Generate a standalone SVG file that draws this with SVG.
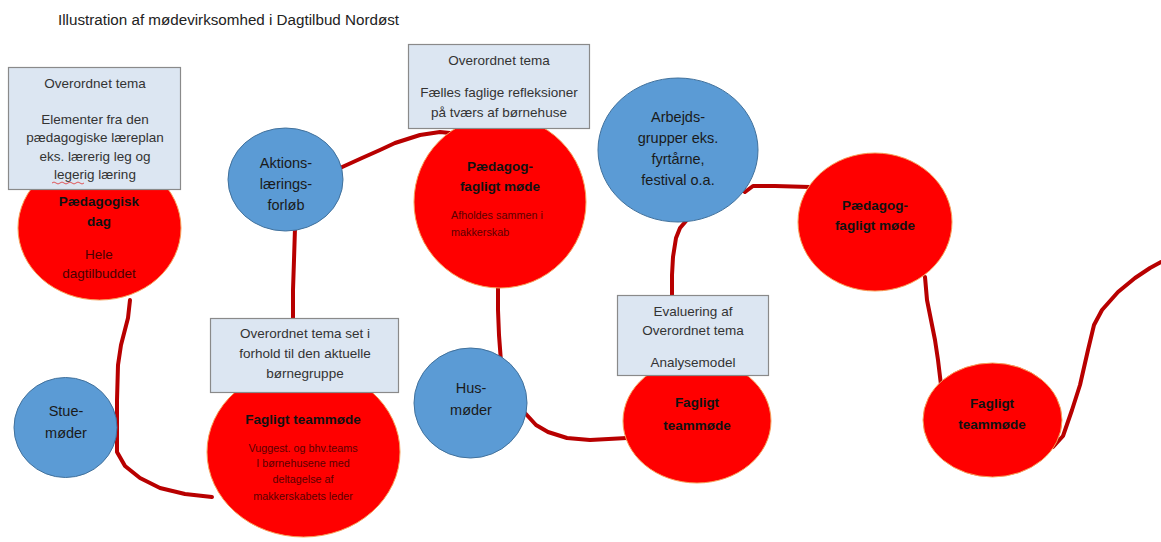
<svg xmlns="http://www.w3.org/2000/svg" width="1161" height="542" viewBox="0 0 1161 542">
<style>
text{font-family:"Liberation Sans",Arial,sans-serif;text-anchor:middle}
.t{font-size:13.5px;fill:#333}
.title{font-size:15.2px;fill:#222;text-anchor:start}
.red{fill:#ff0000;stroke:#f6a05a;stroke-width:1}
.blue{fill:#5b9bd5;stroke:#41719c;stroke-width:1}
.box{fill:#dce6f2;stroke:#8a8a8a;stroke-width:1.2}
.b{font-size:13.5px;font-weight:bold;fill:#111}
.s{font-size:10.8px;fill:#5a0000}
.d{font-size:13.5px;fill:#4a0000}
.bl{font-size:14.5px;fill:#1a1a1a}
.c{fill:none;stroke:#b80000;stroke-width:4;stroke-linecap:round;stroke-linejoin:round}
</style>
<rect width="1161" height="542" fill="#fff"/>
<text class="title" x="58" y="25">Illustration af mødevirksomhed i Dagtilbud Nordøst</text>
<g id="connectors">
<path class="c" d="M130,300 L128,318 L121,345 L118,365 L117,400 L117,452 L125,466 L140,478 L160,488 L185,494 L212,497"/>
<path class="c" d="M295,228 L294,260 L293,290 L293,320"/>
<path class="c" d="M340,168 L362,158 L380,150 L395,143 L420,135 L440,132 L460,134"/>
<path class="c" d="M498,285 L498,310 L499,335 L501,362"/>
<path class="c" d="M525,413 L536,425 L548,432 L567,438 L590,440 L627,438"/>
<path class="c" d="M672,297 L672,275 L673,257 L676,238 L680,228 L686,221"/>
<path class="c" d="M745,192 L753,186 L775,186 L810,187"/>
<path class="c" d="M925,277 L927,300 L931,320 L935,340 L938,360 L941,385"/>
<path class="c" d="M1053,447 L1063,436 L1072,410 L1080,385 L1088,350 L1094,325 L1102,310 L1118,292 L1135,278 L1150,268 L1161,262"/>
</g>
<g id="n-paed-dag">
<ellipse class="red" cx="99.5" cy="228" rx="81.5" ry="72"/>
<text class="b" x="99" y="206">Pædagogisk</text>
<text class="b" x="99" y="226">dag</text>
<text class="d" x="99" y="259">Hele</text>
<text class="d" x="99" y="278">dagtilbuddet</text>
</g>
<g id="n-box1">
<rect class="box" x="8.5" y="67.5" width="172" height="122"/>
<text class="t" x="95" y="88">Overordnet tema</text>
<text class="t" x="95" y="124">Elementer fra den</text>
<text class="t" x="95" y="142">pædagogiske læreplan</text>
<text class="t" x="95" y="161">eks. lærerig leg og</text>
<text class="t" x="95" y="179">legerig læring</text>
<path d="M52,183 q2,-2 4,0 t4,0 t4,0 t4,0 t4,0 t4,0 t4,0 t4,0" fill="none" stroke="#e03030" stroke-width="0.8"/>
</g>
<g id="n-aktions">
<ellipse class="blue" cx="285.5" cy="179.5" rx="57.5" ry="51.5"/>
<text class="bl" x="286" y="168">Aktions-</text>
<text class="bl" x="286" y="189">lærings-</text>
<text class="bl" x="286" y="210">forløb</text>
</g>
<g id="n-paed-faglig1">
<ellipse class="red" cx="500" cy="202" rx="86" ry="86"/>
<text class="b" x="500" y="171">Pædagog-</text>
<text class="b" x="500" y="191">fagligt møde</text>
<text class="s" x="451" y="219" style="text-anchor:start">Afholdes sammen i</text>
<text class="s" x="451" y="236" style="text-anchor:start">makkerskab</text>
</g>
<g id="n-box3">
<rect class="box" x="408.5" y="44.5" width="181" height="84"/>
<text class="t" x="499" y="65">Overordnet tema</text>
<text class="t" x="499" y="97">Fælles faglige refleksioner</text>
<text class="t" x="499" y="117">på tværs af børnehuse</text>
</g>
<g id="n-arbejds">
<ellipse class="blue" cx="678" cy="150" rx="80" ry="72"/>
<text class="bl" x="678" y="122">Arbejds-</text>
<text class="bl" x="678" y="143">grupper eks.</text>
<text class="bl" x="678" y="164">fyrtårne,</text>
<text class="bl" x="678" y="185">festival o.a.</text>
</g>
<g id="n-paed-faglig2">
<ellipse class="red" cx="875" cy="222" rx="77" ry="69"/>
<text class="b" x="875" y="210">Pædagog-</text>
<text class="b" x="875" y="230">fagligt møde</text>
</g>
<g id="n-stue">
<ellipse class="blue" cx="65.5" cy="427.5" rx="51.5" ry="50"/>
<text class="bl" x="66" y="416">Stue-</text>
<text class="bl" x="66" y="438">møder</text>
</g>
<g id="n-fagligt-team1">
<ellipse class="red" cx="303.5" cy="452" rx="96.5" ry="85"/>
<text class="b" x="303" y="424">Fagligt teammøde</text>
<text class="s" x="303" y="452">Vuggest. og bhv.teams</text>
<text class="s" x="303" y="467">I børnehusene med</text>
<text class="s" x="303" y="483">deltagelse af</text>
<text class="s" x="303" y="500">makkerskabets leder</text>
</g>
<g id="n-box2">
<rect class="box" x="210.5" y="318.5" width="188" height="74"/>
<text class="t" x="305" y="338">Overordnet tema set i</text>
<text class="t" x="305" y="358">forhold til den aktuelle</text>
<text class="t" x="305" y="378">børnegruppe</text>
</g>
<g id="n-hus">
<ellipse class="blue" cx="470.5" cy="403" rx="56.5" ry="55"/>
<text class="bl" x="471" y="393">Hus-</text>
<text class="bl" x="471" y="415">møder</text>
</g>
<g id="n-fagligt-team2">
<ellipse class="red" cx="697" cy="421" rx="74" ry="62"/>
<text class="b" x="697" y="407">Fagligt</text>
<text class="b" x="697" y="430">teammøde</text>
</g>
<g id="n-box4">
<rect class="box" x="617.5" y="295.5" width="151" height="80"/>
<text class="t" x="693" y="316">Evaluering af</text>
<text class="t" x="693" y="335">Overordnet tema</text>
<text class="t" x="693" y="367">Analysemodel</text>
</g>
<g id="n-fagligt-team3">
<ellipse class="red" cx="992.5" cy="420" rx="69.5" ry="57"/>
<text class="b" x="992" y="408">Fagligt</text>
<text class="b" x="992" y="429">teammøde</text>
</g>
</svg>
